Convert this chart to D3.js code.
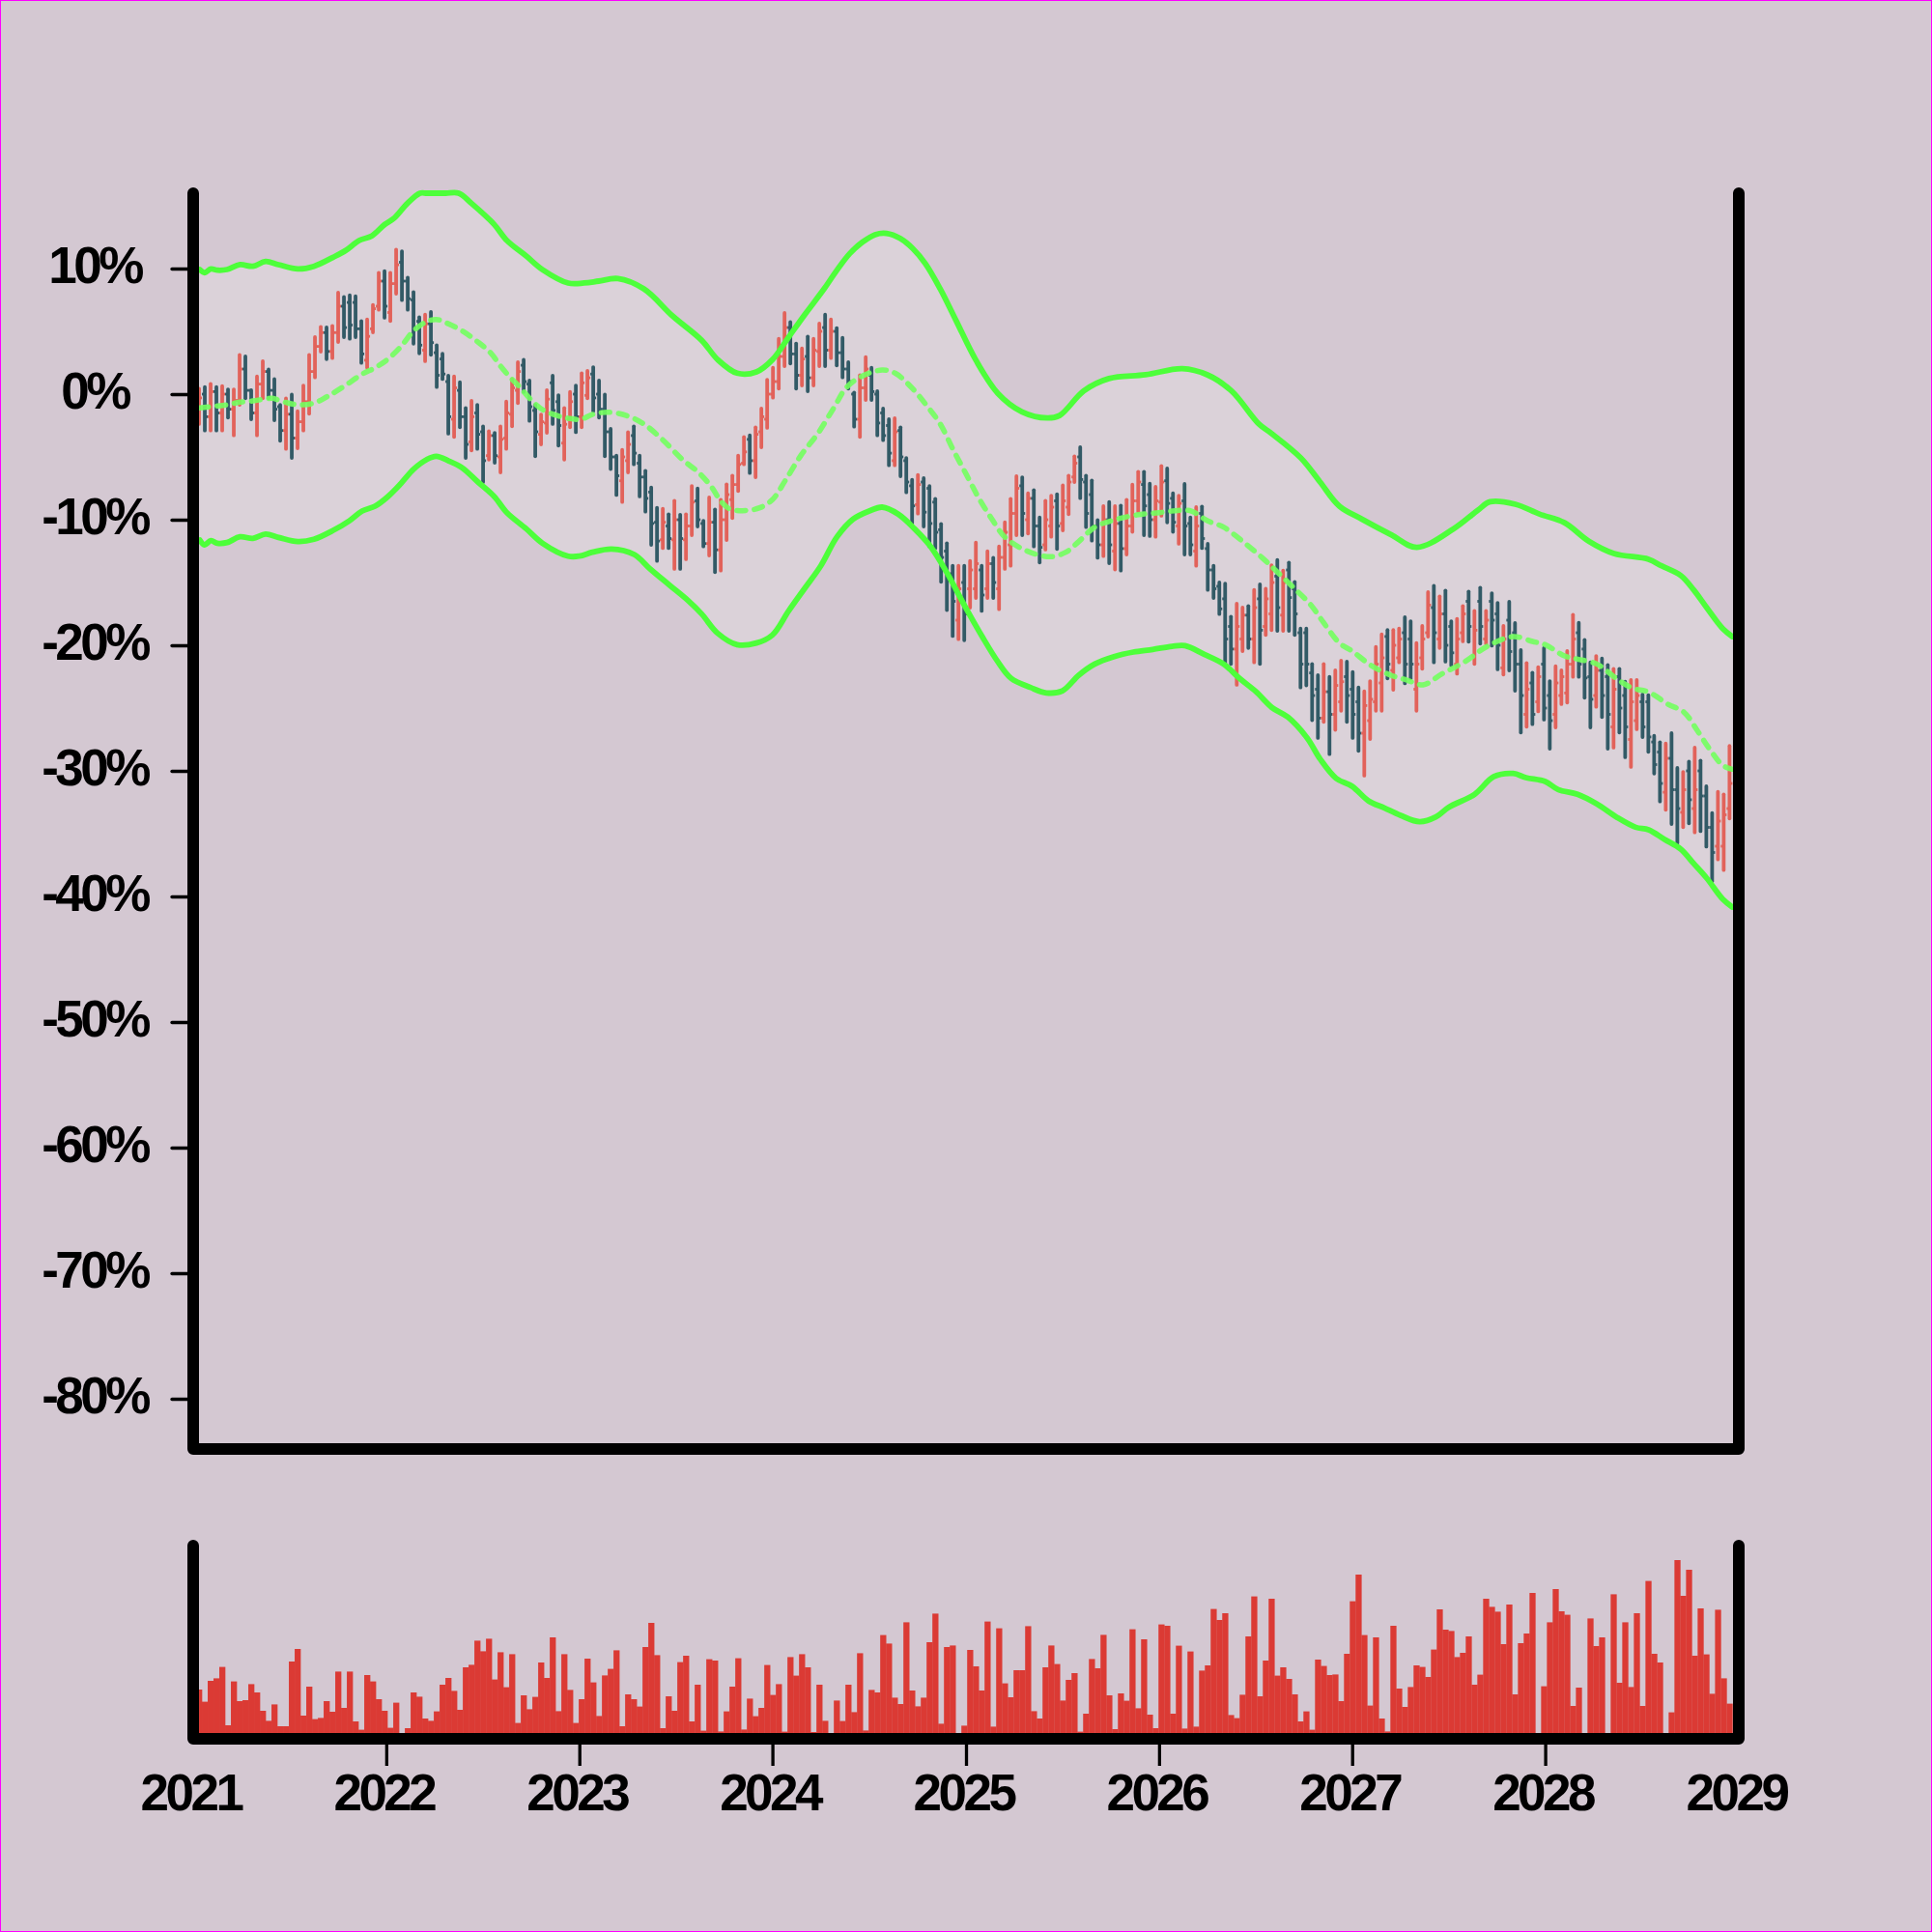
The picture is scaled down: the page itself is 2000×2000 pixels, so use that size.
<!DOCTYPE html>
<html><head><meta charset="utf-8">
<script src="https://cdn.jsdelivr.net/npm/d3@7"></script>
<style>
html,body{margin:0;padding:0;background:#d4c8d2;}
svg{display:block;}
</style></head><body>
<svg id="chart" width="2000" height="2000"></svg>
<script>
// ---------- data ----------
const xTickYears = [2021, 2022, 2023, 2024, 2025, 2026, 2027, 2028, 2029];
const yTickValues = [-80, -70, -60, -50, -40, -30, -20, -10, 0, 10];
const barStart = "2021-01-12";
const barStepDays = 10.96;

// [open, high, low, close] in % change
const ohlc = [
[-1.5,0.44,-2.38,-0.3],[0.0,0.56,-2.9,-1.8],[-1.8,0.82,-2.9,0.2],[0.2,0.56,-2.9,-1.5],[-1.5,0.64,-2.9,0.0],
[0.0,0.38,-1.87,-1.2],[-1.2,0.38,-3.28,-0.5],[-0.5,3.13,-0.85,2.0],[2.0,3.0,-0.33,0.3],[0.3,0.31,-2.0,-1.5],
[-1.5,1.41,-3.28,0.8],[0.8,2.62,-0.33,1.8],[1.8,1.97,-0.33,0.3],[0.3,1.2,-2.08,-1.2],[-1.0,-0.85,-3.72,-2.9],
[-2.9,-0.33,-4.36,-1.6],[-1.6,-0.03,-5.08,-3.5],[-3.5,-1.36,-4.31,-2.2],[-2.2,0.69,-2.9,-0.6],[-0.6,3.13,-1.56,1.8],
[1.8,4.54,1.33,3.8],[3.8,5.36,3.38,4.9],[4.9,5.31,2.79,3.4],[3.4,5.44,2.87,4.9],[4.9,8.08,4.15,7.0],
[7.0,7.74,4.54,5.3],[7.3,7.87,4.41,5.5],[7.3,7.79,4.54,5.2],[5.2,5.82,2.49,3.2],[2.7,5.95,2.1,4.6],
[5.2,7.1,4.92,6.8],[7.0,9.67,6.72,9.0],[9.0,9.79,6.08,7.0],[6.5,9.67,5.82,8.8],[8.8,11.51,8.0,10.3],
[10.5,11.38,7.49,9.0],[9.0,9.28,6.72,7.6],[7.5,8.13,4.02,5.3],[5.8,6.13,3.25,3.9],[3.5,6.33,2.62,5.6],
[5.6,6.54,3.13,4.1],[3.3,3.9,0.56,1.5],[2.8,3.21,1.2,1.6],[1.0,1.46,-3.15,-1.8],[-2.0,1.41,-3.41,0.5],
[0.3,0.95,-2.64,-1.8],[-1.8,-1.1,-5.08,-4.0],[-3.8,-0.54,-4.49,-1.8],[-1.5,-0.85,-4.36,-3.2],[-3.0,-2.56,-7.0,-5.3],
[-4.9,-2.95,-5.21,-3.3],[-3.3,-3.08,-5.46,-4.9],[-5.0,-2.56,-6.23,-3.6],[-3.5,-0.59,-4.36,-1.5],[-1.6,1.2,-2.56,0.5],
[0.3,2.54,-0.72,1.8],[2.3,2.74,0.18,1.0],[0.8,1.08,-2.13,-1.0],[-1.3,-0.85,-4.95,-3.0],[-3.2,-1.62,-4.0,-2.2],
[-2.3,0.31,-3.08,-0.4],[0.9,1.46,-2.38,-1.3],[-0.6,-0.08,-4.1,-2.5],[-3.9,-1.1,-5.21,-2.4],[-2.0,0.18,-2.64,-0.6],
[0.0,0.69,-3.03,-1.8],[-1.8,1.67,-2.64,0.9],[-0.1,1.85,-0.33,1.3],[1.6,2.15,-1.36,-0.3],[0.0,1.08,-1.87,-1.2],
[-1.2,-0.03,-4.95,-3.0],[-3.0,-2.77,-5.97,-5.0],[-5.0,-4.9,-8.03,-6.5],[-6.9,-4.44,-8.59,-5.0],[-5.3,-3.03,-6.23,-4.0],
[-3.3,-2.56,-5.59,-4.7],[-5.5,-4.9,-8.15,-6.6],[-6.6,-6.1,-9.36,-8.3],[-7.8,-7.44,-12.0,-10.3],[-10.2,-9.05,-13.28,-11.7],
[-11.6,-9.13,-12.26,-10.2],[-10.5,-9.56,-12.26,-11.5],[-11.6,-8.49,-13.92,-10.0],[-10.0,-9.6,-13.92,-11.5],[-11.6,-9.56,-13.15,-10.5],
[-10.5,-7.31,-11.23,-8.6],[-8.5,-7.51,-10.54,-10.0],[-10.3,-10.08,-12.13,-11.9],[-11.9,-8.23,-12.85,-10.2],[-10.2,-9.18,-14.18,-12.4],
[-12.4,-8.41,-14.05,-10.0],[-10.0,-7.18,-11.62,-8.0],[-8.4,-6.49,-9.87,-7.2],[-7.2,-4.9,-7.72,-5.6],[-5.5,-3.41,-5.59,-4.6],
[-3.6,-3.28,-6.28,-5.3],[-5.3,-2.64,-6.62,-3.2],[-3.0,-1.15,-4.23,-1.8],[-2.0,1.15,-2.69,0.0],[0.0,2.1,-0.28,1.0],
[1.0,4.41,0.44,3.0],[3.0,6.46,2.23,5.3],[5.3,5.74,2.44,3.2],[3.2,4.03,0.44,1.5],[1.5,3.64,0.69,2.8],
[3.0,4.59,0.23,1.3],[1.3,4.41,0.69,3.5],[3.4,5.62,2.23,5.0],[5.3,6.33,2.23,3.5],[3.5,5.95,2.87,5.0],
[5.0,5.26,2.28,3.3],[3.3,4.49,1.33,2.0],[2.0,2.54,0.44,1.0],[0.0,0.13,-2.59,-2.0],[-2.0,1.51,-3.41,0.5],
[0.5,2.95,-0.46,2.0],[1.5,2.1,-0.46,0.2],[0.0,0.23,-3.28,-2.3],[-1.5,-1.15,-3.67,-3.3],[-2.5,-2.0,-5.67,-4.7],
[-5.3,-1.92,-5.67,-3.0],[-2.9,-2.64,-6.54,-5.0],[-5.3,-5.08,-7.82,-7.0],[-7.3,-6.82,-10.28,-8.9],[-8.8,-6.44,-9.51,-7.2],
[-7.0,-6.69,-10.54,-9.4],[-7.5,-7.31,-12.13,-10.3],[-8.6,-8.33,-12.26,-11.0],[-10.8,-10.33,-14.95,-13.0],[-12.5,-11.87,-17.2,-14.5],
[-14.3,-13.67,-19.26,-16.5],[-18.0,-13.67,-19.51,-15.5],[-15.0,-13.67,-19.6,-17.5],[-15.5,-13.28,-17.0,-14.0],[-15.5,-11.82,-16.23,-13.5],
[-14.0,-13.67,-17.26,-16.0],[-15.5,-12.51,-16.23,-13.5],[-13.5,-13.03,-16.23,-15.0],[-15.5,-12.13,-17.13,-13.0],[-13.0,-10.21,-13.92,-11.0],
[-12.0,-8.33,-13.67,-9.5],[-9.5,-6.54,-11.23,-7.5],[-7.3,-6.62,-11.23,-9.5],[-10.0,-7.9,-11.1,-8.3],[-8.3,-7.64,-12.13,-10.5],
[-10.5,-9.82,-13.41,-12.2],[-12.0,-8.49,-12.38,-10.0],[-10.5,-8.08,-11.36,-9.0],[-8.5,-7.97,-12.33,-10.5],[-10.3,-7.26,-10.85,-8.5],
[-9.0,-6.49,-9.56,-7.0],[-6.6,-4.95,-7.0,-5.5],[-5.0,-4.23,-8.28,-6.8],[-7.0,-6.49,-10.59,-9.5],[-8.0,-6.87,-11.67,-10.5],
[-10.5,-10.03,-13.03,-12.0],[-12.0,-8.92,-12.9,-10.0],[-10.0,-8.59,-13.46,-12.0],[-12.5,-8.92,-13.97,-10.3],[-10.3,-8.87,-14.05,-12.3],
[-12.3,-8.41,-12.77,-10.5],[-10.5,-7.21,-10.97,-8.5],[-8.5,-6.18,-9.36,-7.0],[-7.2,-6.18,-11.23,-8.9],[-8.0,-7.13,-11.3,-10.0],
[-10.0,-7.38,-11.36,-8.5],[-8.6,-5.72,-9.69,-7.0],[-6.9,-5.92,-10.21,-8.7],[-8.3,-7.9,-10.97,-10.2],[-10.5,-8.08,-11.92,-8.7],
[-8.5,-7.15,-12.77,-10.5],[-10.3,-9.82,-12.77,-12.0],[-12.5,-9.0,-13.67,-10.5],[-9.5,-8.95,-12.26,-11.5],[-12.3,-11.92,-15.59,-14.0],
[-14.0,-13.67,-16.23,-15.5],[-15.3,-15.0,-17.51,-17.1],[-16.3,-15.08,-21.49,-19.5],[-18.5,-17.72,-21.49,-20.3],[-20.3,-16.69,-23.15,-18.5],
[-19.5,-17.0,-20.46,-17.6],[-17.6,-16.87,-20.21,-19.5],[-19.5,-15.59,-21.36,-17.0],[-16.3,-15.15,-21.49,-18.8],[-18.5,-15.5,-19.18,-16.3],
[-17.5,-13.62,-18.79,-15.0],[-14.5,-13.21,-18.85,-17.0],[-17.6,-14.05,-18.85,-15.0],[-14.0,-13.41,-18.85,-16.2],[-15.5,-14.95,-19.18,-17.5],
[-19.0,-18.67,-23.36,-21.5],[-19.0,-18.67,-23.2,-21.5],[-22.2,-21.49,-25.97,-24.0],[-23.5,-22.38,-27.38,-25.8],[-25.8,-21.49,-26.1,-23.7],
[-23.7,-22.51,-28.67,-25.5],[-25.5,-22.0,-26.74,-23.2],[-24.5,-21.23,-25.21,-22.9],[-22.5,-21.3,-26.1,-24.0],[-23.5,-22.13,-27.38,-25.5],
[-24.5,-23.36,-28.41,-27.0],[-27.0,-23.67,-30.38,-24.8],[-26.0,-22.85,-27.46,-24.3],[-24.5,-20.13,-25.21,-21.5],[-23.0,-19.13,-25.21,-21.0],
[-19.3,-18.79,-22.64,-21.5],[-22.0,-18.79,-23.54,-20.0],[-21.0,-18.67,-21.36,-19.5],[-19.0,-17.77,-23.03,-21.5],[-19.5,-18.08,-22.64,-21.5],
[-23.5,-19.82,-25.21,-21.5],[-21.0,-18.46,-21.87,-19.5],[-19.0,-15.77,-19.31,-16.8],[-17.0,-15.26,-21.36,-19.0],[-19.5,-16.1,-20.21,-17.5],
[-17.5,-15.64,-21.3,-20.0],[-18.5,-18.08,-21.62,-20.6],[-21.5,-17.9,-22.26,-19.5],[-19.0,-16.87,-19.69,-17.5],[-16.5,-15.72,-19.72,-18.5],
[-20.8,-17.26,-21.49,-18.8],[-16.5,-15.41,-19.87,-18.5],[-19.5,-17.26,-19.87,-18.0],[-16.5,-15.85,-20.03,-18.0],[-17.5,-16.62,-21.92,-20.0],
[-21.8,-18.46,-22.33,-19.5],[-18.0,-16.54,-22.0,-20.5],[-19.0,-18.23,-23.62,-21.5],[-21.5,-20.38,-26.95,-24.0],[-25.5,-21.41,-26.49,-23.5],
[-23.0,-22.18,-26.28,-25.5],[-24.5,-21.74,-25.26,-22.5],[-21.5,-20.21,-25.92,-25.0],[-24.0,-22.85,-28.23,-26.0],[-25.5,-21.67,-26.54,-23.0],
[-24.0,-22.0,-24.69,-22.5],[-23.8,-20.46,-24.56,-21.5],[-21.5,-17.56,-22.51,-19.5],[-19.0,-18.21,-22.51,-21.5],[-20.3,-19.56,-24.18,-22.6],
[-22.5,-21.36,-26.54,-24.3],[-24.0,-20.85,-24.9,-22.0],[-22.0,-21.05,-25.72,-24.0],[-22.5,-21.56,-28.23,-25.5],[-26.5,-21.87,-28.15,-23.5],
[-22.5,-21.87,-26.95,-25.0],[-24.0,-22.9,-28.92,-26.5],[-27.5,-22.77,-29.69,-24.5],[-26.0,-22.77,-26.69,-24.0],[-24.5,-23.92,-27.31,-26.5],
[-24.5,-23.97,-28.49,-27.3],[-27.7,-27.21,-30.21,-29.5],[-28.5,-27.72,-32.44,-31.0],[-31.7,-27.82,-33.1,-29.0],[-29.0,-27.0,-34.23,-31.5],
[-31.5,-29.77,-35.77,-33.0],[-33.3,-30.08,-34.49,-31.5],[-30.0,-29.26,-34.18,-32.3],[-33.0,-28.15,-34.9,-31.5],[-30.0,-29.18,-34.8,-32.0],
[-32.0,-31.23,-36.03,-34.5],[-34.5,-33.36,-38.79,-36.5],[-36.0,-31.67,-37.05,-34.0],[-36.0,-31.87,-37.9,-33.5],[-33.0,-28.02,-33.79,-31.0]
];

const volume = [
25.5,19.2,30,31.3,37.2,7,29.7,19.5,20,28.3,24,14.5,9.3,17.8,6.5,6.5,40,46.5,12,27,
10.2,10.8,19.5,14,34.8,16,34.8,9,4.7,33,29.7,20.5,14.5,5.7,18.7,1,5.5,24,21.8,10.5,
9.3,14.2,28,31.5,24.8,15,37,38.3,50.8,45.3,51.8,30.7,44.8,26.7,43.8,8.2,22.5,15.3,21.7,39.5,
31.5,52.5,14.3,43.8,25.3,8.2,20.5,41.5,29.2,11.8,32.8,36.2,45.8,6.5,23,20.5,16.7,47.5,60,43.3,
5.5,22,14.5,39.7,43,9,28,4.2,41.2,40.5,3.8,14.2,27,41.7,4.8,20.8,11.7,16,38.2,22.7,
28.3,3.7,42.3,32.7,43.8,37,3.5,28,9.3,1,19.8,9.2,28,13.8,44.3,4.3,25.3,24,53.7,49.3,
21.3,18,60.3,25,16.8,21.3,50,64.8,7.8,47.5,48.3,1,6.8,46,37.5,25,60.7,6.3,57.2,28.7,
21.5,35.5,35.5,58.3,14.3,10.5,37,48.3,38.7,19.8,30.5,34,3.7,13,41.3,36.5,53.8,22.5,5,23.5,
19.7,56.7,15.8,51.5,12.5,5.5,59.2,58.5,13,48.2,5.3,45.2,6.3,35.3,38,67.2,61.5,65,12.3,10.7,
22.8,53,73.7,22,40.5,72.5,32.7,37,31,23,9,14.2,4.7,41,37.7,33,33.3,19.5,44,71.2,
85,53.7,17.2,52.5,10.5,3.8,58.5,26,16.5,26.8,38,37.2,32,46.2,67,56.5,55.8,42.3,44.5,53,
28,33.2,72.5,68.3,65.8,49,69.5,23,49.5,54.5,75.5,1,27.2,60.3,77.5,66,64.2,17,26.5,1,
62.3,48,52.5,1,74.8,29,60.3,26.8,65,17,81.7,44,39.5,1,13.7,92.5,74,87.5,43,67.5,
43.7,23.3,66.8,31.3,18.2
];

// band lines: [decimal year, % value]
const upperBand = [
[2021.034,9.92],[2021.059,9.67],[2021.092,9.97],[2021.125,9.87],[2021.175,9.92],[2021.242,10.31],[2021.309,10.18],
[2021.375,10.56],[2021.442,10.31],[2021.542,9.97],[2021.625,10.18],[2021.725,10.9],[2021.792,11.46],[2021.859,12.23],
[2021.925,12.6],[2021.992,13.51],[2022.042,14.03],[2022.109,15.18],[2022.175,16.03],[2022.209,16.7],[2022.259,16.9],
[2022.309,16.7],[2022.375,16.1],[2022.442,15.18],[2022.559,13.51],[2022.625,12.23],[2022.725,11.0],[2022.809,9.92],
[2022.942,8.85],[2023.025,8.85],[2023.1,9.0],[2023.2,9.2],[2023.334,8.38],[2023.484,6.21],[2023.634,4.28],
[2023.717,2.74],[2023.817,1.67],[2023.917,1.77],[2024.0,2.74],[2024.084,4.54],[2024.167,6.33],[2024.267,8.38],
[2024.33,9.8],[2024.4,11.2],[2024.465,12.1],[2024.53,12.7],[2024.59,12.8],[2024.66,12.4],[2024.725,11.6],
[2024.79,10.4],[2024.867,8.38],[2024.95,5.82],[2025.05,2.74],[2025.165,0.06],[2025.29,-1.41],[2025.42,-1.9],
[2025.485,-1.7],[2025.61,0.26],[2025.74,1.24],[2025.93,1.54],[2026.12,2.03],[2026.25,1.54],[2026.375,0.26],
[2026.517,-2.38],[2026.584,-3.15],[2026.734,-5.08],[2026.834,-7.0],[2026.934,-8.92],[2027.05,-9.95],[2027.205,-11.22],
[2027.335,-12.2],[2027.525,-10.73],[2027.65,-9.26],[2027.715,-8.57],[2027.845,-8.77],[2027.97,-9.55],[2028.1,-10.24],
[2028.225,-11.71],[2028.355,-12.69],[2028.534,-13.15],[2028.6,-13.67],[2028.7,-14.44],[2028.767,-15.59],[2028.834,-17.0],
[2028.917,-18.67],[2028.967,-19.31]
];

const midBand = [
[2021.034,-1.1],[2021.109,-0.97],[2021.175,-0.85],[2021.242,-0.64],[2021.309,-0.54],[2021.375,-0.38],[2021.409,-0.33],
[2021.475,-0.64],[2021.542,-0.85],[2021.625,-0.72],[2021.692,-0.21],[2021.775,0.56],[2021.875,1.59],[2021.942,2.1],
[2022.009,2.79],[2022.075,3.77],[2022.142,5.05],[2022.209,5.77],[2022.259,5.95],[2022.309,5.69],[2022.392,5.05],
[2022.475,4.15],[2022.542,3.26],[2022.592,2.23],[2022.642,1.33],[2022.692,0.56],[2022.742,-0.33],[2022.809,-1.23],
[2022.892,-1.74],[2022.942,-1.92],[2023.01,-2.0],[2023.067,-1.62],[2023.15,-1.44],[2023.25,-1.74],[2023.334,-2.38],
[2023.434,-3.67],[2023.534,-5.21],[2023.617,-6.23],[2023.684,-7.38],[2023.734,-8.54],[2023.784,-9.18],[2023.867,-9.26],
[2023.934,-9.05],[2024.0,-8.41],[2024.067,-6.87],[2024.15,-4.82],[2024.234,-3.15],[2024.317,-1.1],[2024.384,0.56],
[2024.467,1.46],[2024.567,1.92],[2024.634,1.67],[2024.717,0.56],[2024.8,-0.97],[2024.867,-2.38],[2024.934,-4.44],
[2025.0,-6.35],[2025.067,-8.3],[2025.134,-9.95],[2025.2,-11.36],[2025.3,-12.38],[2025.434,-12.95],[2025.517,-12.59],
[2025.584,-11.74],[2025.667,-10.59],[2025.767,-10.02],[2025.884,-9.62],[2026.0,-9.44],[2026.1,-9.26],[2026.167,-9.31],
[2026.25,-10.08],[2026.334,-10.59],[2026.434,-11.74],[2026.534,-13.03],[2026.617,-14.23],[2026.7,-15.46],[2026.784,-16.75],
[2026.85,-18.15],[2026.934,-19.82],[2027.0,-20.46],[2027.1,-21.62],[2027.2,-22.38],[2027.284,-22.77],[2027.367,-23.15],
[2027.467,-22.26],[2027.584,-21.31],[2027.7,-20.08],[2027.834,-19.31],[2027.934,-19.69],[2028.0,-19.95],[2028.1,-20.85],
[2028.167,-21.1],[2028.267,-21.49],[2028.367,-22.64],[2028.45,-23.41],[2028.534,-23.72],[2028.634,-24.69],[2028.717,-25.33],
[2028.784,-26.75],[2028.85,-28.28],[2028.917,-29.56],[2028.967,-29.87]
];

const lowerBand = [
[2021.034,-11.62],[2021.059,-12.0],[2021.092,-11.67],[2021.125,-11.87],[2021.175,-11.82],[2021.242,-11.36],[2021.309,-11.49],
[2021.375,-11.15],[2021.442,-11.41],[2021.542,-11.74],[2021.625,-11.56],[2021.725,-10.85],[2021.809,-10.08],[2021.875,-9.31],
[2021.942,-8.92],[2022.009,-8.15],[2022.075,-7.13],[2022.142,-5.97],[2022.209,-5.21],[2022.259,-4.95],[2022.325,-5.33],
[2022.392,-5.85],[2022.475,-7.0],[2022.559,-8.15],[2022.625,-9.44],[2022.725,-10.72],[2022.809,-11.87],[2022.942,-12.9],
[2023.0,-12.9],[2023.067,-12.59],[2023.167,-12.33],[2023.284,-12.77],[2023.367,-13.92],[2023.467,-15.21],[2023.567,-16.49],
[2023.634,-17.51],[2023.717,-19.05],[2023.817,-19.95],[2023.917,-19.82],[2024.0,-19.18],[2024.084,-17.26],[2024.167,-15.46],
[2024.25,-13.67],[2024.334,-11.36],[2024.417,-9.95],[2024.5,-9.31],[2024.567,-9.0],[2024.65,-9.56],[2024.734,-10.72],
[2024.817,-12.13],[2024.9,-14.18],[2025.0,-17.05],[2025.084,-19.31],[2025.167,-21.36],[2025.234,-22.64],[2025.334,-23.36],
[2025.417,-23.79],[2025.5,-23.62],[2025.584,-22.38],[2025.667,-21.49],[2025.767,-20.9],[2025.867,-20.54],[2025.967,-20.33],
[2026.067,-20.08],[2026.134,-20.03],[2026.234,-20.72],[2026.334,-21.49],[2026.417,-22.64],[2026.5,-23.67],[2026.584,-24.95],
[2026.667,-25.72],[2026.767,-27.38],[2026.834,-29.05],[2026.917,-30.59],[2027.0,-31.23],[2027.084,-32.38],[2027.167,-32.95],
[2027.25,-33.54],[2027.35,-34.05],[2027.434,-33.67],[2027.5,-32.9],[2027.634,-31.87],[2027.734,-30.46],[2027.834,-30.21],
[2027.9,-30.54],[2028.0,-30.85],[2028.067,-31.49],[2028.167,-31.87],[2028.267,-32.64],[2028.367,-33.67],[2028.467,-34.49],
[2028.534,-34.69],[2028.617,-35.46],[2028.7,-36.23],[2028.767,-37.38],[2028.834,-38.54],[2028.917,-40.21],[2028.967,-40.85]
];

// ---------- styles ----------
const BG = "#d4c8d2";
const BAND_FILL = "#dbd2d9";
const UP = "#e2625a";
const DOWN = "#325a66";
const VOL = "#db3a34";
const BAND_LINE = "#4dff3a";
const MID_LINE = "#72ff5e";
const FONT = "'Liberation Sans', Arial, Helvetica, sans-serif";

// ---------- layout ----------
const W = 2000, H = 2000;
const P = {left: 200, right: 1800, top: 200, bottom: 1500};
const V = {top: 1600, bottom: 1800};

const svg = d3.select("#chart");
svg.append("rect").attr("width", W).attr("height", H).attr("fill", BG);
svg.append("rect").attr("x", 0.5).attr("y", 0.5).attr("width", W - 1).attr("height", H - 1)
  .attr("fill", "none").attr("stroke", "#ff00ff").attr("stroke-width", 1);

const t0 = d3.timeParse("%Y-%m-%d")(barStart);
const dates = ohlc.map((d, i) => new Date(+t0 + i * barStepDays * 864e5));
const yearToDate = v => {
  const Y = Math.floor(v), a = new Date(Y, 0, 1), b = new Date(Y + 1, 0, 1);
  return new Date(+a + (v - Y) * (b - a));
};

const x = d3.scaleTime()
  .domain([new Date(xTickYears[0], 0, 1), new Date(xTickYears[xTickYears.length - 1], 0, 1)])
  .range([P.left, P.right]);
const y = d3.scaleLinear().domain([-84, 16]).range([P.bottom, P.top]).clamp(true);
const yv = d3.scaleLinear().domain([0, 100]).range([V.bottom, V.top]);

const defs = svg.append("defs");
defs.append("clipPath").attr("id", "clipVol").append("rect")
  .attr("x", P.left).attr("y", V.top).attr("width", P.right - P.left).attr("height", V.bottom - V.top);

const main = svg.append("g");

// band fill
const lineGen = d3.line().curve(d3.curveCatmullRom.alpha(0.5));
const ptsU = upperBand.map(([t, v]) => [x(yearToDate(t)), y(v)]);
const ptsM = midBand.map(([t, v]) => [x(yearToDate(t)), y(v)]);
const ptsL = lowerBand.map(([t, v]) => [x(yearToDate(t)), y(v)]);
const fillD = lineGen(ptsU) + "L" + lineGen(ptsL.slice().reverse()).slice(1) + "Z";
main.append("path").attr("d", fillD).attr("fill", BAND_FILL).attr("stroke", "none");

// OHLC bars
const bars = main.append("g").selectAll("g").data(ohlc).join("g")
  .attr("stroke", d => d[3] >= d[0] ? UP : DOWN);
bars.append("line")
  .attr("x1", (d, i) => x(dates[i])).attr("x2", (d, i) => x(dates[i]))
  .attr("y1", d => y(d[1])).attr("y2", d => y(d[2]))
  .attr("stroke-width", 3.8).attr("stroke-linecap", "round");
bars.append("line")
  .attr("x1", (d, i) => x(dates[i]) - 3).attr("x2", (d, i) => x(dates[i]))
  .attr("y1", d => y(d[0])).attr("y2", d => y(d[0]))
  .attr("stroke-width", 2.8);
bars.append("line")
  .attr("x1", (d, i) => x(dates[i])).attr("x2", (d, i) => x(dates[i]) + 3)
  .attr("y1", d => y(d[3])).attr("y2", d => y(d[3]))
  .attr("stroke-width", 2.8);

// band lines
main.append("path").attr("d", lineGen(ptsU)).attr("fill", "none")
  .attr("stroke", BAND_LINE).attr("stroke-width", 5.8).attr("stroke-linejoin", "round").attr("stroke-linecap", "round");
main.append("path").attr("d", lineGen(ptsL)).attr("fill", "none")
  .attr("stroke", BAND_LINE).attr("stroke-width", 5.8).attr("stroke-linejoin", "round").attr("stroke-linecap", "round");
main.append("path").attr("d", lineGen(ptsM)).attr("fill", "none")
  .attr("stroke", MID_LINE).attr("stroke-width", 5.5).attr("stroke-dasharray", "9,9")
  .attr("stroke-linecap", "round").attr("opacity", 0.9);

// volume
const bw = x(dates[1]) - x(dates[0]);
svg.append("g").attr("clip-path", "url(#clipVol)")
  .selectAll("rect").data(volume).join("rect")
  .attr("x", (d, i) => x(dates[i]) - bw / 2)
  .attr("width", bw + 0.3)
  .attr("y", d => yv(d))
  .attr("height", d => yv(0) - yv(d))
  .attr("fill", VOL);

// y axis (labels centred in the left margin)
const yAxis = svg.append("g").attr("transform", `translate(${P.left},0)`)
  .call(d3.axisLeft(y).tickValues(yTickValues).tickSize(22).tickPadding(0).tickFormat(d => d + "%"));
yAxis.select(".domain").remove();
yAxis.selectAll(".tick line").attr("stroke", "#000").attr("stroke-width", 3.3).attr("stroke-linecap", "round");
yAxis.selectAll(".tick text").attr("fill", "#000").attr("dy", "0.27em")
  .attr("x", -102).attr("text-anchor", "middle")
  .style("font-family", FONT).style("font-weight", "bold").style("font-size", "53px").style("letter-spacing", "-3.5px");

// x axis (below volume)
const xAxis = svg.append("g").attr("transform", `translate(0,${V.bottom})`)
  .call(d3.axisBottom(x).tickValues(xTickYears.map(v => new Date(v, 0, 1))).tickSize(28).tickPadding(8)
    .tickFormat(d3.timeFormat("%Y")));
xAxis.select(".domain").remove();
xAxis.selectAll(".tick line").attr("stroke", "#000").attr("stroke-width", 3.3)
  .attr("opacity", (d, i) => (i === 0 || i === xTickYears.length - 1) ? 0 : 1);
xAxis.selectAll(".tick text").attr("fill", "#000").attr("dx", "-3px")
  .style("font-family", FONT).style("font-weight", "bold").style("font-size", "53px").style("letter-spacing", "-3.5px");

// frames
const frame = d3.path();
frame.moveTo(P.left, P.top); frame.lineTo(P.left, P.bottom); frame.lineTo(P.right, P.bottom); frame.lineTo(P.right, P.top);
svg.append("path").attr("d", frame.toString()).attr("fill", "none").attr("stroke", "#000")
  .attr("stroke-width", 12).attr("stroke-linecap", "round").attr("stroke-linejoin", "round");
const vframe = d3.path();
vframe.moveTo(P.left, V.top); vframe.lineTo(P.left, V.bottom); vframe.lineTo(P.right, V.bottom); vframe.lineTo(P.right, V.top);
svg.append("path").attr("d", vframe.toString()).attr("fill", "none").attr("stroke", "#000")
  .attr("stroke-width", 12).attr("stroke-linecap", "round").attr("stroke-linejoin", "round");
</script>
</body></html>
